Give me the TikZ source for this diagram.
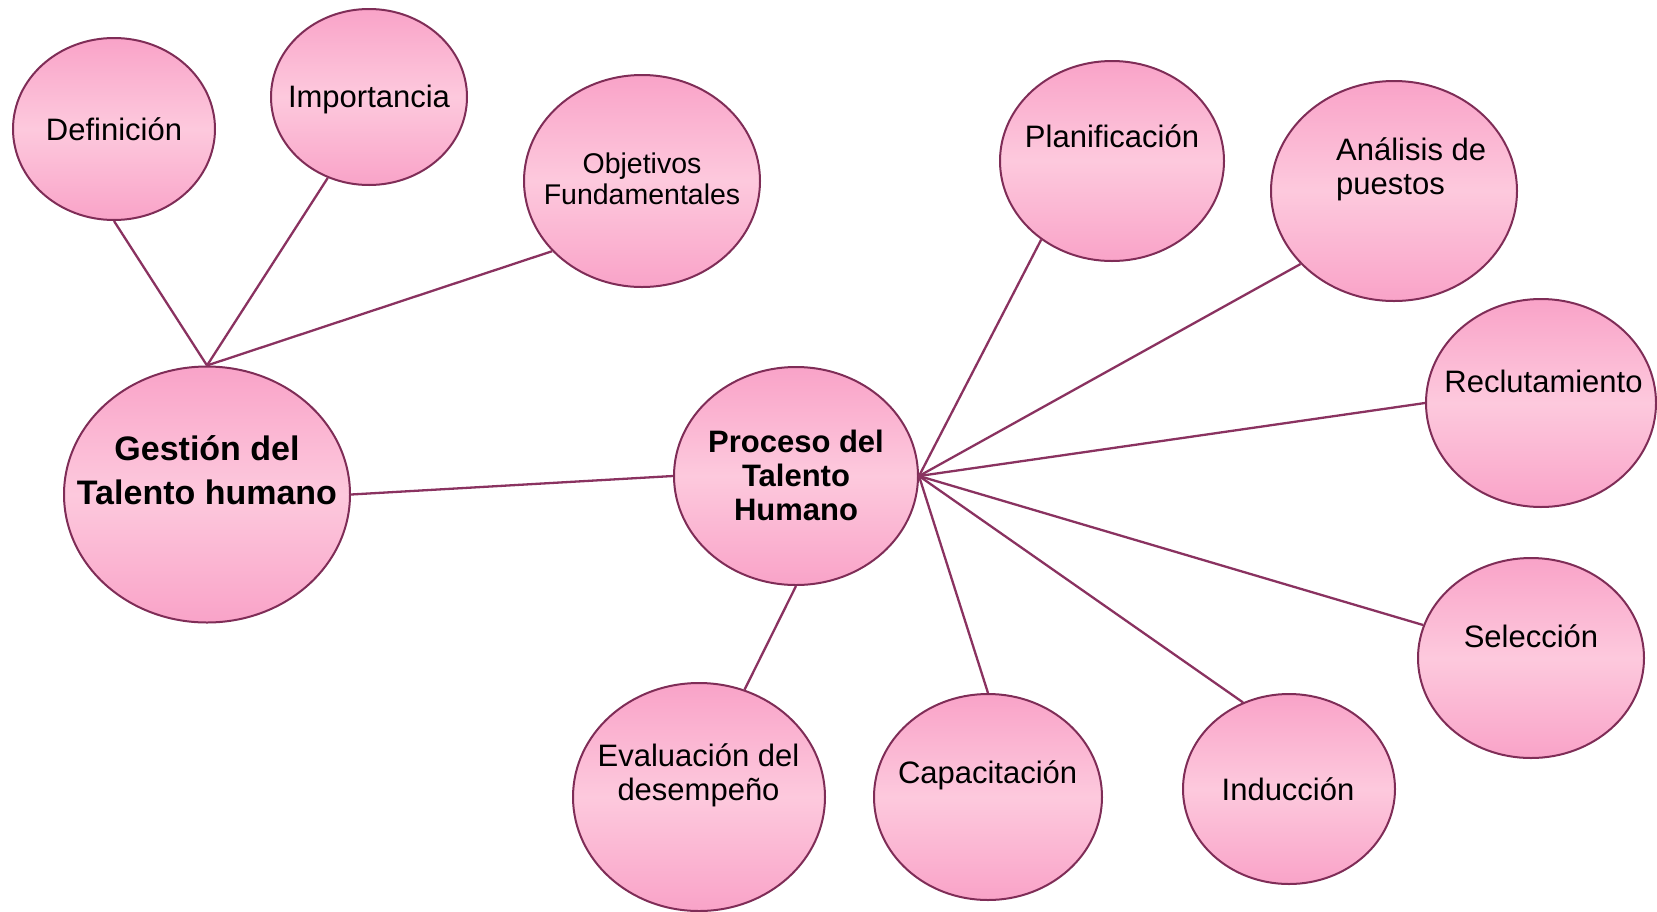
\documentclass[tikz,border=0pt]{standalone}
\usepackage{fontspec}
\setmainfont{Liberation Sans}
\usetikzlibrary{shapes.geometric}
\definecolor{pkTop}{HTML}{F9A3C8}
\definecolor{pkMid}{HTML}{FDC9DD}
\definecolor{rim}{HTML}{7F2D57}
\definecolor{wire}{HTML}{8A3260}
\tikzset{
  bubble/.style={ellipse, draw=rim, line width=2pt, inner sep=0pt,
    top color=pkTop, bottom color=pkTop, middle color=pkMid},
  conn/.style={draw=wire, line width=2.3pt},
  txt/.style={inner sep=0pt, align=center, text=black,
    font=\fontsize{31}{34}\selectfont},
  txtsmall/.style={txt, font=\fontsize{28.5}{30.5}\selectfont},
  txtbold/.style={txt, font=\fontsize{31}{34}\selectfont\bfseries},
  txtbig/.style={txt, font=\fontsize{34}{44}\selectfont\bfseries}
}
\begin{document}
\begin{tikzpicture}[x=1pt,y=-1pt]
\useasboundingbox (0,0) rectangle (1657,911);

% bubbles
\node[bubble, minimum width=202pt, minimum height=182pt] (def)  at (114,129) {};
\node[bubble, minimum width=196pt, minimum height=176pt] (imp)  at (369,97)  {};
\node[bubble, minimum width=236pt, minimum height=212pt] (obj)  at (642,181) {};
\node[bubble, minimum width=286pt, minimum height=256pt] (gest) at (207,494.5) {};
\node[bubble, minimum width=244pt, minimum height=218pt] (proc) at (796,476) {};
\node[bubble, minimum width=224pt, minimum height=200pt] (plan) at (1112,161) {};
\node[bubble, minimum width=246pt, minimum height=220pt] (ana)  at (1394,191) {};
\node[bubble, minimum width=230pt, minimum height=208pt] (rec)  at (1541,403) {};
\node[bubble, minimum width=226pt, minimum height=200pt] (sel)  at (1531,658) {};
\node[bubble, minimum width=212pt, minimum height=190pt] (ind)  at (1289,789) {};
\node[bubble, minimum width=228pt, minimum height=206pt] (cap)  at (988,797) {};
\node[bubble, minimum width=252pt, minimum height=228pt] (eva)  at (699,797) {};

% connectors
\draw[conn] (gest.north) -- (def.south);
\draw[conn] (gest.north) -- (imp.243);
\draw[conn] (gest.north) -- (obj.218);
\draw[conn] (gest.east) -- (proc.west);
\draw[conn] (proc.east) -- (plan.228);
\draw[conn] (proc.east) -- (ana.218);
\draw[conn] (proc.east) -- (rec.west);
\draw[conn] (proc.east) -- (sel.163);
\draw[conn] (proc.east) -- (ind.118);
\draw[conn] (proc.east) -- (cap.north);
\draw[conn] (proc.south) -- (eva.67);

% labels
\node[txt] (defT) at (114,129) {Definición};
\node[txt] (impT) at (369,99) {Importancia};
\node[txtsmall] (objT) at (642,179) {Objetivos\\Fundamentales};
\node[txtbig] (gestT) at (207,470) {Gestión del\\Talento humano};
\node[txtbold] (procT) at (796,475.5) {Proceso del\\Talento\\Humano};
\node[txt] (planT) at (1112,136) {Planificación};
\node[txt, align=left, anchor=west] (anaT) at (1336,169) {Análisis de\\puestos};
\node[txt] (recT) at (1543.5,381.5) {Reclutamiento};
\node[txt] (selT) at (1531,636) {Selección};
\node[txt] (indT) at (1288,789.5) {Inducción};
\node[txt] (capT) at (987.6,775.5) {Capacitación};
\node[txt] (evaT) at (698.5,775.5) {Evaluación del\\desempeño};
\end{tikzpicture}
\end{document}
